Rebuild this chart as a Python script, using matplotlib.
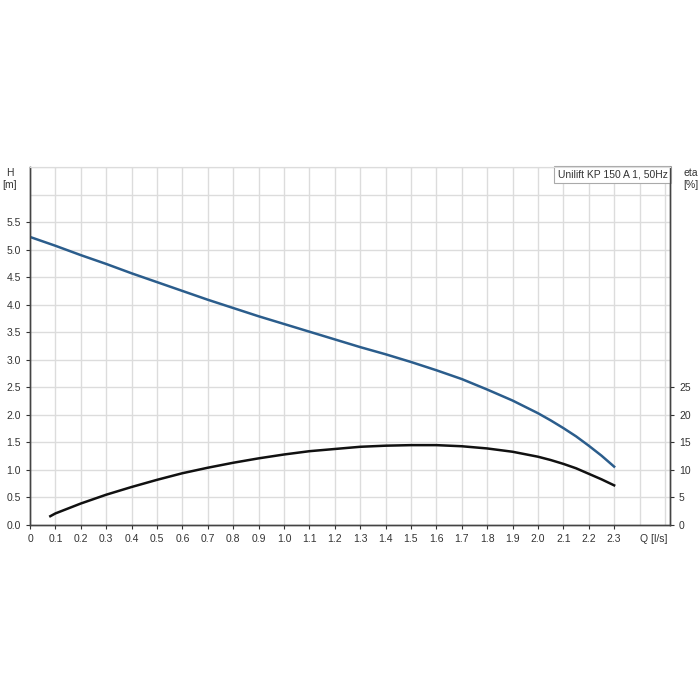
import matplotlib.pyplot as plt

plt.rcParams['font.family'] = ['Liberation Sans', 'DejaVu Sans']

# pump curve
q_head = [0.0, 0.1, 0.2, 0.3, 0.4, 0.5, 0.6, 0.7, 0.8, 0.9, 1.0, 1.1, 1.2, 1.3,
          1.4, 1.5, 1.6, 1.7, 1.8, 1.9, 2.0, 2.05, 2.1, 2.15, 2.2, 2.25, 2.3]
head = [5.23, 5.07, 4.9, 4.74, 4.57, 4.41, 4.25, 4.09, 3.94, 3.79, 3.65, 3.51,
        3.37, 3.23, 3.1, 2.96, 2.81, 2.65, 2.46, 2.26, 2.03, 1.9, 1.76, 1.61,
        1.44, 1.26, 1.06]

q_eta = [0.08, 0.1, 0.2, 0.3, 0.4, 0.5, 0.6, 0.7, 0.8, 0.9, 1.0, 1.1, 1.2, 1.3,
         1.4, 1.5, 1.6, 1.7, 1.8, 1.9, 2.0, 2.05, 2.1, 2.15, 2.2, 2.25, 2.3]
eta = [1.6, 2.1, 3.9, 5.5, 6.9, 8.2, 9.4, 10.4, 11.3, 12.1, 12.8, 13.4, 13.8,
       14.2, 14.4, 14.5, 14.5, 14.3, 13.9, 13.3, 12.4, 11.8, 11.1, 10.3, 9.3,
       8.3, 7.2]

x_ticks = [0, 0.1, 0.2, 0.3, 0.4, 0.5, 0.6, 0.7, 0.8, 0.9, 1.0, 1.1, 1.2, 1.3,
           1.4, 1.5, 1.6, 1.7, 1.8, 1.9, 2.0, 2.1, 2.2, 2.3]
x_labels = ['0', '0.1', '0.2', '0.3', '0.4', '0.5', '0.6', '0.7', '0.8', '0.9',
            '1.0', '1.1', '1.2', '1.3', '1.4', '1.5', '1.6', '1.7', '1.8', '1.9',
            '2.0', '2.1', '2.2', '2.3']
h_ticks = [0.0, 0.5, 1.0, 1.5, 2.0, 2.5, 3.0, 3.5, 4.0, 4.5, 5.0, 5.5]
eta_ticks = [0, 5, 10, 15, 20, 25]

grid_col = '#dcdcdc'
text_col = '#333333'

fig = plt.figure(figsize=(7, 7), dpi=100)
ax = fig.add_axes([30 / 700, 1 - 525 / 700, 640 / 700, 358 / 700])
ax2 = ax.twinx()

ax.set_xlim(0, 2.52)
ax.set_ylim(0, 6.5)
ax2.set_ylim(0, 65)

# grid every 0.1 l/s and every 0.5 m
for i in range(1, 26):
    ax.axvline(i * 0.1, color=grid_col, lw=1, zorder=0)
for i in range(1, 14):
    ax.axhline(i * 0.5, color=grid_col, lw=1, zorder=0)

ax.plot(q_head, head, color='#2b5d8c', lw=1.8, zorder=3)
ax2.plot(q_eta, eta, color='#111111', lw=1.8, zorder=3)

ax.set_xticks(x_ticks)
ax.set_xticklabels(x_labels)
ax.set_yticks(h_ticks)
ax.set_yticklabels(['%.1f' % v for v in h_ticks])
ax2.set_yticks(eta_ticks)
ax2.set_yticklabels([str(v) for v in eta_ticks])

for a in (ax, ax2):
    a.tick_params(labelsize=7.5, colors=text_col, length=3, width=0.8)
    for s in ('left', 'right', 'bottom'):
        a.spines[s].set_color('#444444')
        a.spines[s].set_linewidth(1.0)
    a.spines['top'].set_color(grid_col)

fig.text(10 / 700, 1 - 168 / 700, 'H\n[m]', ha='center', va='top',
         fontsize=7.5, color=text_col, multialignment='center')
fig.text(683 / 700, 1 - 168 / 700, 'eta\n[%]', ha='left', va='top',
         fontsize=7.5, color=text_col)
ax.text(2.455, -0.025, 'Q [l/s]', transform=ax.get_xaxis_transform(),
        ha='center', va='top', fontsize=7.5, color=text_col)
ax.text(0.996, 0.993, 'Unilift KP 150 A 1, 50Hz', transform=ax.transAxes,
        ha='right', va='top', fontsize=7.5, color=text_col, zorder=5,
        bbox=dict(boxstyle='square,pad=0.3', fc='white', ec='#aaaaaa', lw=0.8))

fig.savefig('out.png', dpi=100)
